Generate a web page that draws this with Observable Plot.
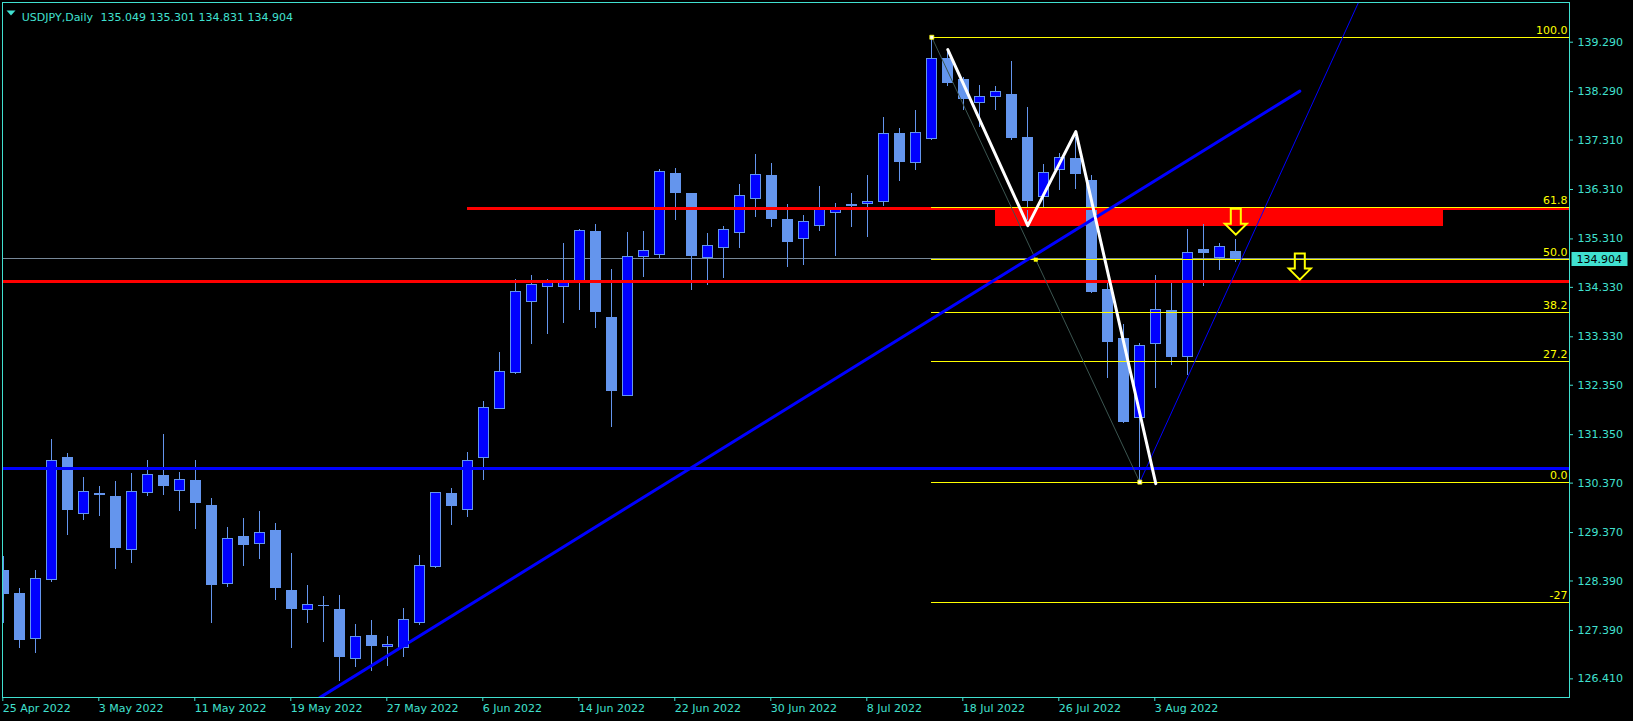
<!DOCTYPE html>
<html><head><meta charset="utf-8">
<script src="https://cdn.jsdelivr.net/npm/d3@7"></script>
<script src="https://cdn.jsdelivr.net/npm/@observablehq/plot@0.6"></script>
<style>html,body{margin:0;padding:0;background:#000;overflow:hidden}</style>
</head><body><div id="chart"></div>
<script>
// ---- data ----
const symbolName = "USDJPY";
const timeframe = "Daily";
// daily candles, index 0 = 25 Apr 2022 ... 77 = 10 Aug 2022
const opens  = [128.60,128.13,127.22,128.41,130.87,129.75,130.14,130.09,129.02,130.17,
                130.52,130.21,130.42,129.90,128.33,129.27,129.14,129.41,128.18,127.81,
                127.89,127.81,126.82,127.27,127.05,127.04,127.55,128.67,130.14,129.83,
                130.88,131.87,132.59,134.03,134.34,134.34,134.45,135.46,133.72,132.13,
                134.95,134.99,136.63,136.21,134.92,135.12,135.43,136.12,136.59,135.70,
                135.31,135.57,135.84,135.97,136.02,136.05,137.44,136.85,137.34,138.94,
                138.53,138.06,138.19,138.23,137.36,136.16,136.71,136.92,136.49,134.27,
                133.28,131.69,133.19,133.86,132.92,135.08,134.92,135.049];
const highs  = [128.89,128.23,128.60,131.25,130.97,130.48,130.30,130.40,130.56,130.83,
                131.35,130.59,130.83,130.06,129.47,129.65,129.80,129.55,128.95,128.30,
                128.08,128.10,127.51,127.59,127.27,127.83,128.91,130.19,130.26,130.99,
                132.02,133.01,134.49,134.57,134.49,135.22,135.50,135.60,134.69,135.44,
                135.46,136.71,136.74,136.23,135.42,135.56,136.41,137.02,136.84,136.01,
                135.79,136.37,136.03,136.22,136.59,137.77,137.55,137.90,139.39,139.09,
                138.58,138.41,138.39,138.90,137.97,136.82,137.03,137.37,136.59,134.40,
                133.58,133.19,134.57,134.42,135.51,135.60,135.22,135.301];
const lows   = [127.52,127.02,126.93,128.35,129.32,129.62,129.70,128.63,128.75,130.09,
                130.11,129.80,129.44,127.52,128.25,128.69,128.83,128.00,127.03,127.52,
                127.15,126.36,126.65,126.55,126.67,126.85,127.49,128.64,129.52,129.67,
                130.43,131.86,132.57,133.18,133.37,133.60,133.87,133.50,131.50,132.13,
                134.53,134.91,135.69,134.27,134.36,134.51,135.12,135.75,135.55,134.74,
                134.78,135.46,134.96,135.55,135.33,135.97,136.48,136.70,137.30,138.40,
                137.90,137.57,137.91,137.30,135.68,135.89,136.28,136.32,134.20,132.49,
                131.58,130.39,132.29,132.75,132.55,134.35,134.67,134.831];
const closes = [128.13,127.20,128.43,130.82,129.83,130.19,130.13,129.05,130.19,130.54,
                130.31,130.44,129.96,128.31,129.24,129.12,129.36,128.25,127.82,127.91,
                127.88,126.85,127.26,127.07,127.10,127.61,128.69,130.17,129.90,130.82,
                131.89,132.62,134.24,134.38,134.41,134.41,135.47,133.83,132.23,134.95,
                135.07,136.67,136.24,134.96,135.17,135.49,136.18,136.61,135.71,135.25,
                135.66,135.90,135.94,136.00,136.06,137.44,136.86,137.46,138.95,138.46,
                138.14,138.19,138.29,137.35,136.07,136.65,136.94,136.62,134.23,133.22,
                131.60,133.15,133.88,132.92,135.03,135.02,135.15,134.904];

const xTickIndex  = [0, 6, 12, 18, 24, 30, 36, 42, 48, 54, 60, 66, 72];
const xTickLabels = ["25 Apr 2022","3 May 2022","11 May 2022","19 May 2022","27 May 2022",
                     "6 Jun 2022","14 Jun 2022","22 Jun 2022","30 Jun 2022","8 Jul 2022",
                     "18 Jul 2022","26 Jul 2022","3 Aug 2022"];
const yTickValues = [139.29,138.29,137.31,136.31,135.31,134.33,133.33,132.35,131.35,130.37,129.37,128.39,127.39,126.41];

// drawing objects (bar index, price)
const fibHigh = {i: 58, price: 139.39};
const fibLow  = {i: 71, price: 130.39};
const fibLevels = [1, 0.618, 0.5, 0.382, 0.272, 0, -0.27];
const fibLabels = ["100.0", "61.8", "50.0", "38.2", "27.2", "0.0", "-27"];
const supportLevel = 130.66;      // thick blue horizontal
const resistanceLevel = 134.45;   // thick red horizontal
const upperRedStart = 29, upperRedPrice = 135.92;
const zoneStart = 62, zoneEnd = 90, zoneTop = 135.95, zoneBottom = 135.57;
const trendIdx = [19.75, 81], trendPrice = [126.03, 138.30];
const rayIdx = [71, 85], rayPrice = [130.39, 140.33];
const zigIdx = [59, 64, 67, 72], zigPrice = [139.14, 135.58, 137.48, 130.36];
const arrowIdx = [77, 81], arrowPrice = [135.66, 134.75];

// ---- build ----
const cyan = "#40E0D0";
const bullFill = "#0000FF", bearFill = "#6495ED", wickColor = "#6495ED";
const candles = opens.map((o, i) => ({i, open: o, high: highs[i], low: lows[i], close: closes[i]}));
const last = candles[candles.length - 1];
const fibData = fibLevels.map((lv, k) => ({price: fibLow.price + lv * (fibHigh.price - fibLow.price), label: fibLabels[k]}));
const fibMid = {i: (fibHigh.i + fibLow.i) / 2, price: (fibHigh.price + fibLow.price) / 2};
const trend = trendIdx.map((i, k) => ({i, price: trendPrice[k]}));
const ray = rayIdx.map((i, k) => ({i, price: rayPrice[k]}));
const zig = zigIdx.map((i, k) => ({i, price: zigPrice[k]}));
const arrows = arrowIdx.map((i, k) => ({i, price: arrowPrice[k]}));

const xDomain = [-0.08125, 97.856];
const yDomain = [126.033, 140.093];

const arrowSymbol = {draw(ctx) {
  ctx.moveTo(-5, -13); ctx.lineTo(5, -13); ctx.lineTo(5, 2); ctx.lineTo(11, 2);
  ctx.lineTo(0, 13); ctx.lineTo(-11, 2); ctx.lineTo(-5, 2); ctx.closePath();
}};
const boxSymbol = {draw(ctx) { ctx.rect(-28, -7, 56, 14); }};
const triSymbol = {draw(ctx) { ctx.moveTo(-4.5, -2.5); ctx.lineTo(4.5, -2.5); ctx.lineTo(0, 2.5); ctx.closePath(); }};
const sqSymbol = {draw(ctx) { ctx.rect(-2, -2, 4, 4); }};
const crisp = "crispEdges";

const chart = Plot.plot({
  width: 1633, height: 721,
  marginLeft: 2, marginRight: 64, marginTop: 2, marginBottom: 24,
  style: {background: "#000", color: cyan, fontFamily: "DejaVu Sans", fontSize: "11px"},
  x: {type: "linear", domain: xDomain},
  y: {type: "linear", domain: yDomain},
  marks: [
    Plot.rect([{}], {x1: zoneStart, x2: zoneEnd, y1: zoneBottom, y2: zoneTop, fill: "#FF0000", clip: true, shapeRendering: crisp}),
    Plot.ruleY([last.close], {stroke: "#778899", strokeWidth: 1, shapeRendering: crisp}),
    Plot.ruleX(candles, {x: "i", y1: "low", y2: "high", stroke: wickColor, strokeWidth: 1, clip: true, shapeRendering: crisp}),
    Plot.rect(candles, {x1: d => d.i - 0.3, x2: d => d.i + 0.3, y1: "open", y2: "close",
      fill: d => d.close >= d.open ? bullFill : bearFill, stroke: wickColor, strokeWidth: 1, clip: true, shapeRendering: crisp}),
    Plot.ruleY([resistanceLevel], {stroke: "#FF0000", strokeWidth: 3, shapeRendering: crisp}),
    Plot.ruleY([upperRedPrice], {x1: upperRedStart, x2: xDomain[1], stroke: "#FF0000", strokeWidth: 3, shapeRendering: crisp}),
    Plot.ruleY([supportLevel], {stroke: "#0000FF", strokeWidth: 3, shapeRendering: crisp}),
    Plot.ruleY(fibData, {y: "price", x1: fibHigh.i, x2: xDomain[1], stroke: "#FFFF00", strokeWidth: 1, shapeRendering: crisp}),
    Plot.line([fibHigh, fibLow], {x: "i", y: "price", stroke: "#3b5550", strokeWidth: 1}),
    Plot.line(trend, {x: "i", y: "price", stroke: "#0000FF", strokeWidth: 3, clip: true}),
    Plot.line(ray, {x: "i", y: "price", stroke: "#0000FF", strokeWidth: 1, clip: true}),
    Plot.line(zig, {x: "i", y: "price", stroke: "#FFFFFF", strokeWidth: 3, clip: true}),
    Plot.dot([fibHigh, fibLow], {x: "i", y: "price", symbol: sqSymbol, fill: "#FFFFFF", stroke: "#FFFF00", strokeWidth: 0.8}),
    Plot.dot([fibMid], {x: "i", y: "price", symbol: sqSymbol, fill: "#FFFF00"}),
    Plot.dot(arrows, {x: "i", y: "price", symbol: arrowSymbol, fill: "none", stroke: "#FFFF00", strokeWidth: 2}),
    Plot.text(fibData, {y: "price", text: "label", frameAnchor: "right", textAnchor: "end", dx: -2, dy: -7, fill: "#FFFF00"}),
    Plot.frame({stroke: cyan, shapeRendering: crisp}),
    Plot.axisY(yTickValues, {anchor: "right", tickSize: 3, tickPadding: 5, tickFormat: d => d.toFixed(3), label: null, stroke: cyan, fill: cyan}),
    Plot.axisX(xTickIndex, {anchor: "bottom", tickSize: 4, tickPadding: 3, tickFormat: (d, k) => xTickLabels[k], textAnchor: "start", dx: -1, label: null, stroke: cyan, fill: cyan}),
    Plot.dot([last.close], {y: d => d, frameAnchor: "right", dx: 30, symbol: boxSymbol, fill: cyan, stroke: "none"}),
    Plot.text([last.close], {y: d => d, text: d => d.toFixed(3), frameAnchor: "right", textAnchor: "start", dx: 7, fill: "#000"}),
    Plot.dot([0], {frameAnchor: "top-left", dx: 8.5, dy: 10.5, symbol: triSymbol, fill: cyan, stroke: "none"}),
    Plot.text([`${symbolName},${timeframe}`], {frameAnchor: "top-left", dx: 19.3, dy: 11, textAnchor: "start", fill: cyan}),
    Plot.text([[last.open, last.high, last.low, last.close].map(v => v.toFixed(3)).join(" ")], {frameAnchor: "top-left", dx: 98, dy: 11, textAnchor: "start", fill: cyan})
  ]
});
document.getElementById("chart").appendChild(chart);
</script>
</body></html>
